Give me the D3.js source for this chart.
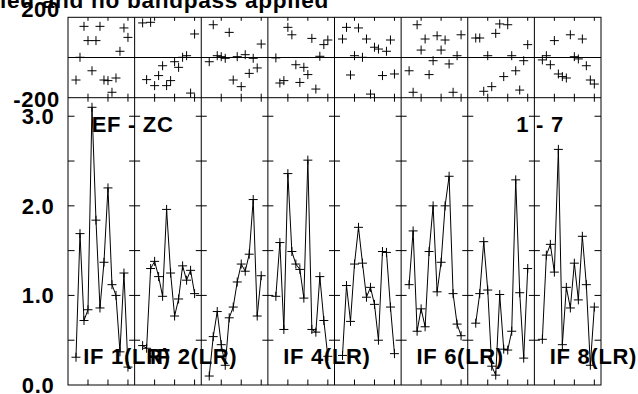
<!DOCTYPE html>
<html><head><meta charset="utf-8">
<script src="https://cdn.jsdelivr.net/npm/d3@7"></script>
<style>
html,body{margin:0;padding:0;background:#fff;overflow:hidden}
text{font-family:"Liberation Sans",Arial,Helvetica,sans-serif;font-weight:bold;fill:#000;font-size:22px;letter-spacing:0.7px}
</style>
</head><body>
<svg id="chart" width="638" height="394"></svg>
<script>
// ---------------- data ----------------
const channels = [2,3,4,5,6,7,8,9,10,11,12,13,14,15];
const ifNames = ["IF 1(LR)","IF 2(LR)","IF 3(LR)","IF 4(LR)","IF 5(LR)","IF 6(LR)","IF 7(LR)","IF 8(LR)"];
const shownIFLabels = ["IF 1(LR)","IF 2(LR)","IF 4(LR)","IF 6(LR)","IF 8(LR)"];

const ampIF1 = [0.31,1.69,0.72,0.84,3.10,1.84,0.86,1.37,2.20,1.12,1.00,0.37,1.25,0.20];
const ampIF2 = [0.44,0.41,1.30,1.38,1.21,0.99,1.96,1.25,0.77,0.96,1.33,1.17,1.28,1.02];
const ampIF3 = [0.10,0.54,0.82,0.45,0.22,0.75,0.87,1.15,1.35,1.27,1.46,2.07,0.77,1.22];
const ampIF4 = [0.99,1.59,0.62,2.36,1.49,1.35,1.29,0.97,2.51,0.62,0.59,1.21,0.72,0.32];
const ampIF5 = [0.33,1.11,0.71,1.35,1.76,1.36,0.98,1.09,0.90,0.50,1.49,1.48,0.87,0.35];
const ampIF6 = [1.12,1.72,0.60,0.85,0.65,1.49,2.00,1.04,1.37,2.00,2.33,1.02,0.68,0.55];
const ampIF7 = [0.69,1.02,1.60,1.06,0.21,0.11,1.01,0.40,0.39,0.60,2.29,1.03,0.30,1.30];
const ampIF8 = [0.51,1.45,1.57,1.26,2.63,0.45,1.09,0.86,1.36,0.95,1.66,1.12,0.22,0.87];

const phaseIF1 = [-112,1,155,84,-66,84,155,-112,-115,-173,-102,31,147,100];
const phaseIF2 = [172,-110,175,-140,-90,-41,-140,-115,-21,-49,1,9,-177,117];
const phaseIF3 = [-21,163,9,4,-4,125,-112,4,-145,14,-79,-4,-52,67];
const phaseIF4 = [-2,-127,-115,150,113,-36,-124,-49,-85,95,-157,6,64,87];
const phaseIF5 = [92,150,-87,9,147,1,92,-182,51,42,-90,31,87,-82];
const phaseIF6 = [-66,-173,163,37,92,-85,-16,108,37,87,-32,-173,9,113];
const phaseIF7 = [97,97,-168,9,-145,120,167,-95,163,9,-66,-162,-16,64];
const phaseIF8 = [-12,9,-36,84,-82,-95,-102,113,4,-7,92,-41,-112,-132];

const amplitudes = [ampIF1,ampIF2,ampIF3,ampIF4,ampIF5,ampIF6,ampIF7,ampIF8];
const phases = [phaseIF1,phaseIF2,phaseIF3,phaseIF4,phaseIF5,phaseIF6,phaseIF7,phaseIF8];

const ampTicks = [0.5,1.0,1.5,2.0,2.5,3.0];
const ampTickLabels = ["0.0","1.0","2.0","3.0"];
const phaseTickLabels = ["200","-200"];
const channelTicks = [5,10,15];
const baselineLabel = "EF - ZC";
const timeLabel = "1 - 7";
const titleText = "ied and no bandpass applied";

// ---------------- layout ----------------
const L = 68, R = 601, T = 17.3, M = 97.7, B = 385;
const nPanels = ifNames.length;
const panelW = (R - L) / nPanels;

const panelX = d3.scaleLinear().domain([0, nPanels]).range([L, R]);
const chanX = d3.scaleLinear().domain([0, 50/3]).range([0, panelW]);
const yAmp = d3.scaleLinear().domain([0, 3.207]).range([B, M]);
const yPh = d3.scaleLinear().domain([-200, 200]).range([M, T]);

const svg = d3.select("#chart");
svg.append("rect").attr("width",638).attr("height",394).attr("fill","#fff");

// texts first so lines/marks sit on top like the original
const t = svg.append("g");
t.append("text").attr("x",329).attr("y",7.5).attr("text-anchor","end").style("font-size","22.6px").text(titleText);
t.append("text").attr("x",60).attr("y",17).attr("text-anchor","end").text(phaseTickLabels[0]);
t.append("text").attr("x",60).attr("y",106.5).attr("text-anchor","end").text(phaseTickLabels[1]);
ampTickLabels.forEach(s => {
  t.append("text").attr("x",54.5).attr("y",yAmp(+s)+7.8).attr("text-anchor","end").text(s);
});
t.append("text").attr("x",91.7).attr("y",131.7).text(baselineLabel);
t.append("text").attr("x",516.3).attr("y",131.7).text(timeLabel);
ifNames.forEach((name,i) => {
  if (shownIFLabels.includes(name)) {
    t.append("text").attr("x",panelX(i)+15.3).attr("y",364).text(name);
  }
});

const g = svg.append("g").attr("stroke","#000").attr("stroke-width",1).attr("fill","none");

// frame
g.append("rect").attr("x",L).attr("y",T).attr("width",R-L).attr("height",B-T);
g.append("line").attr("x1",L).attr("x2",R).attr("y1",M).attr("y2",M);
g.append("line").attr("x1",L).attr("x2",R).attr("y1",yPh(0)).attr("y2",yPh(0));
d3.range(1, nPanels).forEach(i => {
  g.append("line").attr("x1",panelX(i)).attr("x2",panelX(i)).attr("y1",T).attr("y2",B);
});

// x ticks
d3.range(nPanels).forEach(i => {
  channelTicks.forEach(c => {
    const x = panelX(i) + chanX(c);
    g.append("line").attr("x1",x).attr("x2",x).attr("y1",T).attr("y2",T+3.5);
    g.append("line").attr("x1",x).attr("x2",x).attr("y1",M-4).attr("y2",M+4);
    g.append("line").attr("x1",x).attr("x2",x).attr("y1",B-5.5).attr("y2",B);
  });
});

// amplitude y ticks
ampTicks.forEach(v => {
  const y = yAmp(v);
  g.append("line").attr("x1",L).attr("x2",L+6.5).attr("y1",y).attr("y2",y);
  g.append("line").attr("x1",R-6.5).attr("x2",R).attr("y1",y).attr("y2",y);
  d3.range(1, nPanels).forEach(i => {
    g.append("line").attr("x1",panelX(i)-5.5).attr("x2",panelX(i)+5.5).attr("y1",y).attr("y2",y);
  });
});

// data
const cross = "M-4.5,0H4.5M0,-4.5V4.5";
d3.range(nPanels).forEach(i => {
  const x0 = panelX(i);
  const ampPts = channels.map((c,k) => [x0 + chanX(c), yAmp(amplitudes[i][k])]);
  g.append("path").attr("d", d3.line()(ampPts)).attr("stroke-width",1);
  ampPts.forEach(p => g.append("path").attr("d",cross).attr("transform",`translate(${p[0]},${p[1]})`));
  channels.forEach((c,k) => {
    g.append("path").attr("d",cross)
      .attr("transform",`translate(${x0 + chanX(c)},${yPh(phases[i][k])})`);
  });
});
</script>
</body></html>
